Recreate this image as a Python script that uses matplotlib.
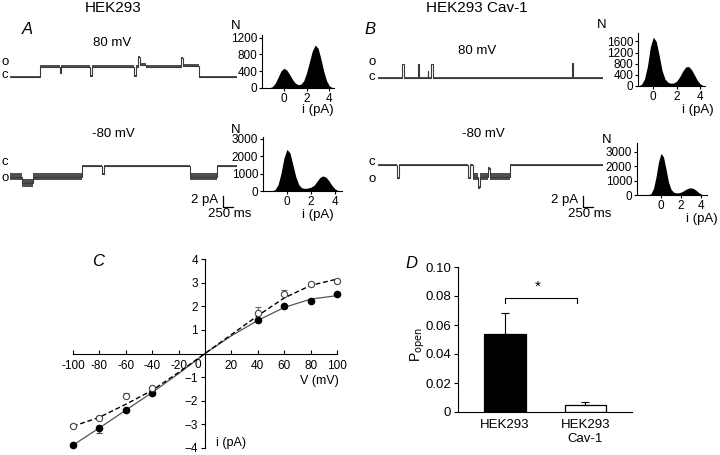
import matplotlib
matplotlib.use("Agg")
import matplotlib.pyplot as plt
import numpy as np
from matplotlib.lines import Line2D

plt.rcParams['font.family'] = ['Liberation Sans', 'DejaVu Sans']
plt.rcParams['font.size'] = 9.5

W, H = 720, 455

# ---------------- data ----------------
# single-channel traces: step edges (ms), current level (pA), noise band width (pA)
A80_edges = [0, 750, 1250, 1275, 2000, 2040, 3100, 3150, 3200, 3260, 3400, 4275, 4330, 4725, 5675]
A80_level = [0, 2.1, 0.9, 2.1, 0.3, 2.1, 0.2, 2.1, 4.0, 2.5, 2.1, 3.9, 2.3, 0]
A80_noise = [0.3, 0.5, 0.3, 0.5, 0.3, 0.5, 0.3, 0.5, 0.3, 0.5, 0.5, 0.3, 0.5, 0.3]

Am80_edges = [0, 300, 575, 1800, 2310, 2340, 4500, 5175, 5675]
Am80_level = [-2.1, -3.4, -2.1, 0, -1.6, 0, -2.1, 0]
Am80_noise = [1.5, 1.5, 1.5, 0.3, 0.3, 0.3, 1.5, 0.3]

B80_edges = [0, 610, 640, 990, 1015, 1240, 1260, 1320, 1375, 4860, 4885, 5625]
B80_level = [0, 2.8, 0, 2.8, 0, 1.4, 0, 2.8, 0, 3.0, 0]
B80_noise = [0.3, 0.2, 0.3, 0.2, 0.3, 0.2, 0.3, 0.2, 0.3, 0.2, 0.3]

Bm80_edges = [0, 475, 525, 2250, 2290, 2375, 2500, 2540, 2750, 2800, 3300, 5625]
Bm80_level = [0, -2.6, 0, -2.6, 0, -2.3, -4.4, -2.3, -0.6, -2.3, 0]
Bm80_noise = [0.3, 0.4, 0.3, 0.4, 0.3, 1.3, 0.6, 1.3, 0.6, 1.3, 0.3]

# amplitude histograms
hist_i = [-1.5, -1.25, -1.0, -0.75, -0.5, -0.25, 0, 0.25, 0.5, 0.75, 1.0, 1.25, 1.5,
          1.75, 2.0, 2.25, 2.5, 2.75, 3.0, 3.25, 3.5, 3.75, 4.0, 4.25, 4.5]
histA80 = [0, 5, 30, 110, 250, 400, 470, 430, 330, 210, 120, 80, 90, 170, 360, 620,
           880, 1020, 950, 700, 400, 170, 50, 10, 0]
histAm80 = [0, 10, 80, 350, 1000, 1900, 2400, 2200, 1500, 800, 350, 180, 150, 170,
            220, 320, 550, 780, 870, 800, 600, 330, 130, 30, 0]
histB80 = [0, 10, 60, 250, 700, 1400, 1750, 1600, 1100, 550, 250, 130, 100, 110, 180,
           330, 530, 680, 700, 590, 400, 200, 70, 15, 0]
histBm80 = [0, 15, 100, 450, 1250, 2300, 2900, 2650, 1800, 900, 400, 200, 150, 150,
            200, 290, 400, 480, 500, 450, 330, 180, 60, 10, 0]

# I-V relation
V = [-100, -80, -60, -40, 40, 60, 80, 100]
I_hek = [-3.88, -3.15, -2.4, -1.68, 1.42, 2.02, 2.22, 2.52]
I_hek_err = [0.04, 0.2, 0.08, 0.08, 0.05, 0.1, 0.05, 0.05]
I_cav = [-3.07, -2.75, -1.78, -1.48, 1.72, 2.52, 2.93, 3.05]
I_cav_err = [0.08, 0.12, 0.12, 0.06, 0.25, 0.15, 0.05, 0.05]
V_fit = [-100, -80, -60, -40, -20, 0, 20, 40, 60, 80, 100]
fit_hek = [-3.88, -3.15, -2.4, -1.65, -0.85, 0, 0.75, 1.4, 1.95, 2.3, 2.45]
fit_cav = [-3.08, -2.7, -2.15, -1.56, -0.8, 0, 0.8, 1.6, 2.35, 2.88, 3.15]

# Popen
groups = ['HEK293', 'HEK293\nCav-1']
popen = [0.054, 0.005]
popen_err = [0.014, 0.002]

# ---------------- helpers ----------------
fig = plt.figure(figsize=(W / 100, H / 100), dpi=100)


def rect(l, t, r, b):
    return [l / W, 1 - b / H, (r - l) / W, (b - t) / H]


def ftext(x, y, s, **kw):
    kw.setdefault('ha', 'center')
    kw.setdefault('va', 'center')
    fig.text(x / W, 1 - y / H, s, **kw)


def fline(xs, ys, **kw):
    fig.add_artist(Line2D([x / W for x in xs], [1 - y / H for y in ys],
                          transform=fig.transFigure, color='black', lw=0.9, **kw))


def trace(l, r, yc, edges, level, noise):
    ax = fig.add_axes(rect(l, yc - 24, r, yc + 24))
    ax.set_xlim(0, edges[-1])
    ax.set_ylim(-4.8, 4.8)
    ax.axis('off')
    lev = np.array(level, float)
    nz = np.array(noise, float)
    ax.stairs(lev + nz / 2, edges, baseline=lev - nz / 2, fill=True,
              color='#505050', lw=0)
    ax.stairs(lev, edges, baseline=None, color='#3a3a3a', lw=0.8)
    return ax


def hist(l, t, r, b, vals, xlim, ylim, yticks):
    ax = fig.add_axes(rect(l, t, r, b))
    ax.fill_between(hist_i, vals, color='black', lw=0)
    ax.set_xlim(*xlim)
    ax.set_ylim(*ylim)
    ax.set_yticks(yticks)
    ax.set_xticks([0, 2, 4])
    for s in ['top', 'right']:
        ax.spines[s].set_visible(False)
    for s in ['left', 'bottom']:
        ax.spines[s].set_linewidth(0.8)
    ax.tick_params(labelsize=8.5, length=2, width=0.8, pad=1.5)
    return ax


# ---------------- panel A ----------------
ftext(113, 8, 'HEK293', fontsize=11)
ftext(27, 30, 'A', fontsize=12, style='italic')
ftext(112, 43, '80 mV')
ftext(5, 62, 'o')
ftext(5, 75, 'c')
trace(10, 237, 77, A80_edges, A80_level, A80_noise)
ftext(113, 134, '-80 mV')
ftext(5, 162, 'c')
ftext(5, 178, 'o')
trace(10, 237, 166, Am80_edges, Am80_level, Am80_noise)
ftext(218, 200, '2 pA', ha='right')
fline([223, 223, 233], [196, 207, 207])
ftext(230, 214, '250 ms')

hist(262, 35, 334, 88, histA80, (-1.9, 4.4), (0, 1260), [0, 400, 800, 1200])
ftext(236, 26, 'N')
ftext(334, 110, 'i (pA)', ha='right')
hist(263, 137, 342, 191, histAm80, (-2.0, 4.6), (0, 3115), [0, 1000, 2000, 3000])
ftext(236, 130, 'N')
ftext(318, 215, 'i (pA)')

# ---------------- panel B ----------------
ftext(477, 8, 'HEK293 Cav-1', fontsize=11)
ftext(370, 30, 'B', fontsize=12, style='italic')
ftext(477, 51, '80 mV')
ftext(372, 62, 'o')
ftext(372, 77, 'c')
trace(378, 603, 78, B80_edges, B80_level, B80_noise)
ftext(483, 134, '-80 mV')
ftext(372, 162, 'c')
ftext(372, 179, 'o')
trace(378, 603, 165, Bm80_edges, Bm80_level, Bm80_noise)
ftext(578, 200, '2 pA', ha='right')
fline([583, 583, 593], [196, 207, 207])
ftext(590, 214, '250 ms')

hist(638, 33, 705, 86, histB80, (-1.3, 4.4), (0, 1900), [0, 400, 800, 1200, 1600])
ftext(602, 25, 'N')
ftext(714, 110, 'i (pA)', ha='right')
hist(637, 143, 707, 195, histBm80, (-2.4, 4.6), (0, 3620), [0, 1000, 2000, 3000])
ftext(607, 140, 'N')
ftext(702, 219, 'i (pA)')

# ---------------- panel C ----------------
ftext(98, 261, 'C', fontsize=12, style='italic')
axC = fig.add_axes(rect(73, 259, 337, 448))
axC.set_xlim(-100, 100)
axC.set_ylim(-4, 4)
for s in ['top', 'right']:
    axC.spines[s].set_visible(False)
axC.spines['left'].set_position(('data', 0))
axC.spines['bottom'].set_position(('data', 0))
axC.spines['left'].set_linewidth(0.8)
axC.spines['bottom'].set_linewidth(0.8)
axC.set_xticks([-100, -80, -60, -40, -20, 0, 20, 40, 60, 80, 100])
axC.set_xticklabels(['-100', '-80', '-60', '-40', '-20', '', '20', '40', '60', '80', '100'])
axC.set_yticks([-4, -3, -2, -1, 1, 2, 3, 4])
axC.tick_params(axis='x', direction='in', length=3, width=0.8, labelsize=8.5, pad=5)
axC.tick_params(axis='y', direction='out', length=3, width=0.8, labelsize=8.5, pad=2)
axC.text(-3, -0.22, '0', ha='right', va='top', fontsize=8.5)
axC.plot(V_fit, fit_hek, color='#555555', lw=0.9)
axC.plot(V_fit, fit_cav, color='black', lw=1.0, ls=(0, (3.5, 2)))
axC.errorbar(V, I_hek, yerr=[I_hek_err, [0] * len(V)], fmt='o', color='black',
             ms=4.5, mfc='black', mec='black', ecolor='#444444', elinewidth=0.8,
             capsize=2.5, capthick=0.8, zorder=4, clip_on=False)
axC.errorbar(V, I_cav, yerr=[[0] * len(V), I_cav_err], fmt='o', color='#555555',
             ms=4.5, mfc='white', mec='#444444', mew=0.8, ecolor='#666666',
             elinewidth=0.8, capsize=2.5, capthick=0.8, zorder=4, clip_on=False)
axC.text(87, -1.15, 'V (mV)', ha='center', va='center', fontsize=9)
axC.text(20, -3.8, 'i (pA)', ha='center', va='center', fontsize=9)

# ---------------- panel D ----------------
ftext(411, 263, 'D', fontsize=12, style='italic')
axD = fig.add_axes(rect(458, 267, 632, 412))
xpos = np.arange(len(groups))
axD.bar(xpos, popen, width=0.52, color=['black', 'white'], edgecolor='black', lw=0.9)
axD.errorbar(xpos, popen, yerr=[[0, 0], popen_err], fmt='none', ecolor='black',
             elinewidth=0.8, capsize=3, capthick=0.8)
axD.set_xlim(-0.584, 1.578)
axD.set_ylim(0, 0.10)
axD.set_yticks([0, 0.02, 0.04, 0.06, 0.08, 0.10])
axD.set_yticklabels(['0', '0.02', '0.04', '0.06', '0.08', '0.10'])
axD.set_xticks(xpos)
axD.set_xticklabels(groups)
axD.tick_params(axis='x', length=0, labelsize=9.5, pad=5)
axD.tick_params(axis='y', length=3, width=0.8, labelsize=9.5, pad=2)
for s in ['top', 'right']:
    axD.spines[s].set_visible(False)
axD.spines['left'].set_linewidth(0.8)
axD.spines['bottom'].set_linewidth(0.8)
axD.plot([0.0, 0.0, 0.9, 0.9], [0.075, 0.0786, 0.0786, 0.075], color='black', lw=0.8)
axD.text(0.41, 0.0815, '*', ha='center', va='bottom', fontsize=11)
ftext(418, 345, r'P$_{\mathrm{open}}$', rotation=90, fontsize=10)

fig.savefig('out.png', dpi=100)
